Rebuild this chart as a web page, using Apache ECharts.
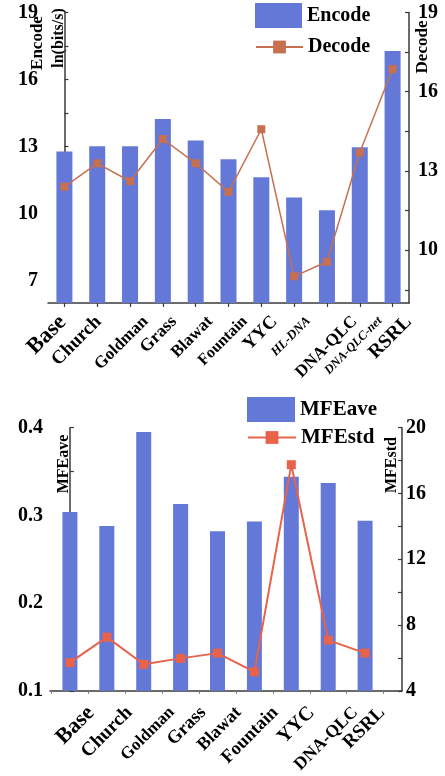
<!DOCTYPE html>
<html>
<head>
<meta charset="utf-8">
<script src="https://cdn.jsdelivr.net/npm/echarts@6/dist/echarts.min.js"></script>
<style>
html,body{margin:0;padding:0;background:#fff;}
#chart{width:445px;height:776px;}
</style>
</head>
<body>
<div id="chart"></div>
<script>
// ---------- Data: top chart ----------
var topCategories = ['Base','Church','Goldman','Grass','Blawat','Fountain','YYC','HL-DNA','DNA-QLC','DNA-QLC-net','RSRL'];
var encodeValues = [12.78, 13.02, 13.02, 14.23, 13.27, 12.43, 11.63, 10.72, 10.15, 12.97, 17.28];
var decodeValues = [12.40, 13.29, 12.61, 14.21, 13.29, 12.21, 14.58, 9.01, 9.56, 13.70, 16.86];
var topLeftTicks = [7, 10, 13, 16, 19];
var topRightTicks = [10, 13, 16, 19];

// ---------- Data: bottom chart ----------
var bottomCategories = ['Base','Church','Goldman','Grass','Blawat','Fountain','YYC','DNA-QLC','RSRL'];
var mfeAve = [0.304, 0.288, 0.395, 0.313, 0.282, 0.293, 0.344, 0.337, 0.294];
var mfeStd = [5.71, 7.26, 5.61, 5.97, 6.29, 5.15, 17.75, 7.08, 6.29];
var bottomLeftTicks = [0.1, 0.2, 0.3, 0.4];
var bottomRightTicks = [4, 8, 12, 16, 20];

// ---------- Label styling (sizes and shifts, in category units) ----------
var topLabelSizes = [22.5, 19, 17, 17.5, 17, 16, 18.5, 13, 17, 12.5, 19.5];
var topLabelItalic = [7, 9];
var topLabelShift = [-0.05, 0.04, 0.47, 0.34, 0.44, 0.50, 0.40, 0.44, 0.84, 0.62, 0.49];
var botLabelSizes = [22, 19.5, 17, 18.5, 18, 18.5, 20, 17.5, 19];
var botLabelShift = [0.57, 0.61, 0.76, 0.61, 0.57, 0.57, 0.55, 0.73, 0.46];

var FONT = '"Liberation Serif", "Times New Roman", serif';
var BAR = '#6478D8';
var DEC = '#C6704F';
var STD = '#E8634A';
var AX = '#3a3a3a';

function rng(a, b, s) { var r = []; for (var v = a; v <= b + 1e-9; v += s) r.push(+v.toFixed(4)); return r; }
function mkRich(sizes, italicIdx) {
  var r = {};
  sizes.forEach(function (s, i) {
    r['s' + i] = {fontSize: s, fontWeight: 'bold', fontFamily: FONT, color: '#000',
      fontStyle: (italicIdx.indexOf(i) >= 0 ? 'italic' : 'normal')};
  });
  return r;
}
function nearest(arr, v) { var b = 0; for (var i = 1; i < arr.length; i++) if (Math.abs(arr[i] - v) < Math.abs(arr[b] - v)) b = i; return b; }

var topRich = mkRich(topLabelSizes, topLabelItalic);
var botRich = mkRich(botLabelSizes, []);
var topIdx = topCategories.map(function (c, i) { return i; });
var botIdx = bottomCategories.map(function (c, i) { return i; });
var topLabelPos = topIdx.map(function (i) { return +(i + topLabelShift[i]).toFixed(3); });
var botLabelPos = botIdx.map(function (i) { return +(i + botLabelShift[i]).toFixed(3); });
var botTickPos = botIdx.map(function (i) { return i - 0.5; }).concat([8.5]);

var axisLineStyle = {show: true, lineStyle: {color: AX, width: 1.5}};
var lblStyle = {fontSize: 20, fontWeight: 'bold', fontFamily: FONT, color: '#000'};
function lbl(extra) { var o = {}; for (var k in lblStyle) o[k] = lblStyle[k]; for (var k2 in extra) o[k2] = extra[k2]; return o; }
var legText = {fontSize: 20, fontWeight: 'bold', fontFamily: FONT, color: '#000'};

var chart = echarts.init(document.getElementById('chart'), null, {renderer: 'canvas'});
var option = {
  animation: false,
  backgroundColor: '#fff',
  grid: [
    {left: 48, right: 36, top: 12.5, height: 290.5},
    {left: 50, right: 43, top: 427.7, height: 265}
  ],
  legend: [
    {data: [{name: 'Encode', icon: 'rect'}], left: 255, top: 3, padding: 0, itemWidth: 47, itemHeight: 25,
     textStyle: legText},
    {data: ['Decode'], left: 255, top: 37, padding: 0, itemWidth: 47, itemHeight: 16,
     textStyle: legText},
    {data: [{name: 'MFEave', icon: 'rect'}], left: 247, top: 397, padding: 0, itemWidth: 48, itemHeight: 25,
     textStyle: {fontSize: 21, fontWeight: 'bold', fontFamily: FONT, color: '#000'}},
    {data: ['MFEstd'], left: 247, top: 427, padding: 0, itemWidth: 48, itemHeight: 16,
     textStyle: {fontSize: 21, fontWeight: 'bold', fontFamily: FONT, color: '#000'}}
  ],
  xAxis: [
    {type: 'value', gridIndex: 0, min: -0.5, max: 10.5,
     splitLine: {show: false},
     axisLine: axisLineStyle,
     axisTick: {show: true, length: 4, customValues: topIdx, lineStyle: {color: AX, width: 1.2}},
     axisLabel: {rotate: 45, margin: 16, customValues: topLabelPos,
       formatter: function (v) { var i = nearest(topLabelPos, v); return '{s' + i + '|' + topCategories[i] + '}'; },
       rich: topRich}},
    {type: 'value', gridIndex: 1, min: -0.54, max: 9.0,
     splitLine: {show: false},
     axisLine: axisLineStyle,
     axisTick: {show: true, length: 3, customValues: botTickPos, lineStyle: {color: '#777', width: 1}},
     axisLabel: {rotate: 45, margin: 19, customValues: botLabelPos,
       formatter: function (v) { var i = nearest(botLabelPos, v); return '{s' + i + '|' + bottomCategories[i] + '}'; },
       rich: botRich}}
  ],
  yAxis: [
    {type: 'value', gridIndex: 0, min: 6, max: 19, splitLine: {show: false},
     axisLine: axisLineStyle,
     axisTick: {show: true, inside: true, length: 4, customValues: rng(7, 19, 1.5), lineStyle: {color: AX, width: 1.2}},
     axisLabel: lbl({customValues: topLeftTicks, margin: 10})},
    {type: 'value', gridIndex: 0, position: 'right', min: 8, max: 19, splitLine: {show: false},
     axisLine: axisLineStyle,
     axisTick: {show: true, inside: true, length: 4, customValues: rng(8.5, 19, 1.5), lineStyle: {color: AX, width: 1.2}},
     axisLabel: lbl({customValues: topRightTicks, margin: 9})},
    {type: 'value', gridIndex: 1, min: 0.1, max: 0.4, splitLine: {show: false},
     axisLine: axisLineStyle,
     axisTick: {show: true, inside: true, length: 4, customValues: [0.1,0.15,0.2,0.25,0.3,0.35,0.4], lineStyle: {color: AX, width: 1.2}},
     axisLabel: lbl({customValues: bottomLeftTicks, margin: 7,
       formatter: function (v) { return v.toFixed(1); }})},
    {type: 'value', gridIndex: 1, position: 'right', min: 4, max: 20, splitLine: {show: false},
     axisLine: axisLineStyle,
     axisTick: {show: true, inside: true, length: 4, customValues: rng(4, 20, 2), lineStyle: {color: AX, width: 1.2}},
     axisLabel: lbl({customValues: bottomRightTicks, margin: 4})}
  ],
  series: [
    {name: 'Encode', type: 'bar', xAxisIndex: 0, yAxisIndex: 0, barWidth: 16,
     data: encodeValues.map(function (v, i) { return [i, v]; }), itemStyle: {color: BAR}},
    {name: 'Decode', type: 'line', xAxisIndex: 0, yAxisIndex: 1,
     data: decodeValues.map(function (v, i) { return [i, v]; }),
     symbol: 'rect', symbolSize: 8, lineStyle: {color: DEC, width: 1.5}, itemStyle: {color: DEC}, z: 5},
    {name: 'MFEave', type: 'bar', xAxisIndex: 1, yAxisIndex: 2, barWidth: 15,
     data: mfeAve.map(function (v, i) { return [i, v]; }), itemStyle: {color: BAR}},
    {name: 'MFEstd', type: 'line', xAxisIndex: 1, yAxisIndex: 3,
     data: mfeStd.map(function (v, i) { return [i, v]; }),
     symbol: 'rect', symbolSize: 9, lineStyle: {color: STD, width: 2}, itemStyle: {color: STD}, z: 5}
  ],
  graphic: [
    {type: 'text', x: 38, y: 43, rotation: Math.PI / 2,
     style: {text: 'Encode', font: 'bold 17px ' + FONT, fill: '#000', align: 'center', verticalAlign: 'middle'}},
    {type: 'text', x: 59, y: 38, rotation: Math.PI / 2,
     style: {text: 'ln(bits/s)', font: 'bold 16px ' + FONT, fill: '#000', align: 'center', verticalAlign: 'middle'}},
    {type: 'text', x: 423, y: 47, rotation: Math.PI / 2,
     style: {text: 'Decode', font: 'bold 17px ' + FONT, fill: '#000', align: 'center', verticalAlign: 'middle'}},
    {type: 'text', x: 64, y: 464, rotation: Math.PI / 2,
     style: {text: 'MFEave', font: 'bold 16px ' + FONT, fill: '#000', align: 'center', verticalAlign: 'middle'}},
    {type: 'text', x: 392, y: 465, rotation: Math.PI / 2,
     style: {text: 'MFEstd', font: 'bold 16px ' + FONT, fill: '#000', align: 'center', verticalAlign: 'middle'}}
  ]
};
chart.setOption(option);
</script>
</body>
</html>
